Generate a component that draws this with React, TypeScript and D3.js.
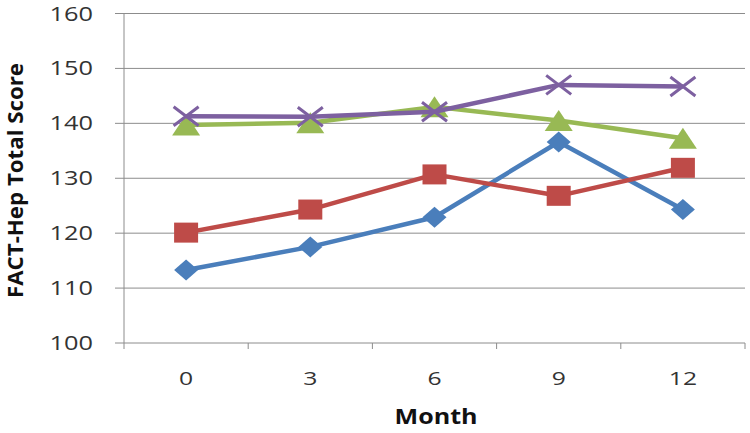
import React from "react";
import * as d3 from "d3";

const months = ["0", "3", "6", "9", "12"];
const yTicks = [100, 110, 120, 130, 140, 150, 160];
const seriesBlue = [113.3, 117.5, 122.9, 136.6, 124.3];
const seriesRed = [120.1, 124.3, 130.7, 126.8, 131.9];
const seriesGreen = [139.7, 140.1, 143.0, 140.5, 137.3];
const seriesPurple = [141.3, 141.2, 142.1, 147.0, 146.7];

const series = [
  { name: "blue", values: seriesBlue, color: "#4a7ebb", marker: "diamond" },
  { name: "red", values: seriesRed, color: "#be4b48", marker: "square" },
  { name: "green", values: seriesGreen, color: "#98b954", marker: "triangle" },
  { name: "purple", values: seriesPurple, color: "#7d60a0", marker: "x" },
];

const W = 750, H = 433;
const left = 124, right = 745, top = 13.5, bottom = 343;

export default function App() {
  const x = d3.scaleBand<string>().domain(months).range([left, right]);
  const y = d3.scaleLinear().domain([100, 160]).range([bottom, top]);
  const cxOf = (i: number) => (x(months[i]) as number) + x.bandwidth() / 2;
  const line = d3
    .line<number>()
    .x((_, i) => cxOf(i))
    .y((v) => y(v));
  const gray = "#8c8c8c";
  const font = "'Open Sans', 'DejaVu Sans', sans-serif";
  const sx = 1.3;

  const marker = (m: string, cx: number, cy: number, color: string, key: string) => {
    if (m === "diamond") {
      const rx = 12, ry = 10.5;
      return <path key={key} d={`M${cx},${cy - ry}L${cx + rx},${cy}L${cx},${cy + ry}L${cx - rx},${cy}Z`} fill={color} />;
    }
    if (m === "square") {
      const hx = 12, hy = 10;
      return <rect key={key} x={cx - hx} y={cy - hy} width={2 * hx} height={2 * hy} fill={color} />;
    }
    if (m === "triangle") {
      const hx = 14, hy = 10.5;
      return <path key={key} d={`M${cx},${cy - hy}L${cx + hx},${cy + hy}L${cx - hx},${cy + hy}Z`} fill={color} />;
    }
    const rx = 12.5, ry = 9.5;
    return (
      <path key={key} d={`M${cx - rx},${cy - ry}L${cx + rx},${cy + ry}M${cx - rx},${cy + ry}L${cx + rx},${cy - ry}`} stroke={color} strokeWidth={3} />
    );
  };

  return (
    <svg width={W} height={H} style={{ position: "absolute", left: 0, top: 0, background: "#fff" }}>
      {yTicks.map((t) => (
        <g key={t}>
          <line x1={115} x2={right} y1={y(t)} y2={y(t)} stroke={gray} strokeWidth={1} />
          <g transform={`translate(93,${y(t)}) scale(${sx},1)`}>
            <text x={0} y={0} dy="0.36em" textAnchor="end" fontFamily={font} fontSize={19.5} fill="#333">
              {t}
            </text>
          </g>
        </g>
      ))}
      <line x1={left} x2={left} y1={top} y2={bottom + 6} stroke={gray} strokeWidth={1} />
      {months.map((m) => (
        <line key={"t" + m} x1={(x(m) as number) + x.bandwidth()} x2={(x(m) as number) + x.bandwidth()} y1={bottom} y2={bottom + 6} stroke={gray} />
      ))}
      {months.map((m, i) => (
        <g key={"l" + m} transform={`translate(${cxOf(i)},385) scale(${sx},1)`}>
          <text x={0} y={0} textAnchor="middle" fontFamily={font} fontSize={19} fill="#333">
            {m}
          </text>
        </g>
      ))}
      <text x={436} y={424} textAnchor="middle" fontFamily={font} fontWeight="bold" fontSize={20.5} fill="#111" textLength={83} lengthAdjust="spacingAndGlyphs">
        Month
      </text>
      <text
        transform={`translate(23,180.5) rotate(-90)`}
        textAnchor="middle"
        fontFamily={font}
        fontWeight="bold"
        fontSize={21}
        fill="#111"
        textLength={235}
        lengthAdjust="spacingAndGlyphs"
      >
        FACT-Hep Total Score
      </text>
      {series.map((s) => (
        <g key={s.name}>
          <path d={line(s.values) as string} fill="none" stroke={s.color} strokeWidth={4.5} strokeLinejoin="round" />
          {s.values.map((v, i) => marker(s.marker, cxOf(i), y(v), s.color, s.name + i))}
        </g>
      ))}
    </svg>
  );
}
